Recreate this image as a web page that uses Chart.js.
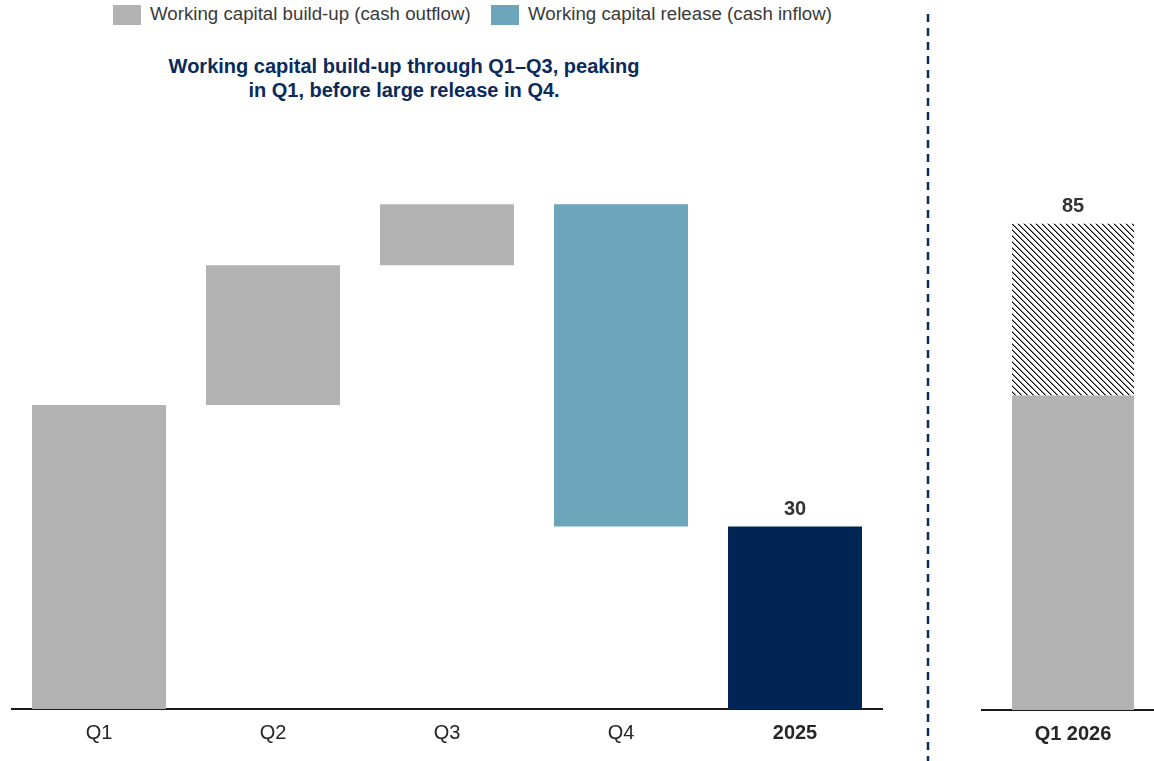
<!DOCTYPE html>
<html>
<head>
<meta charset="utf-8">
<script src="https://cdn.jsdelivr.net/npm/chart.js@4.4.1/dist/chart.umd.min.js"></script>
<style>
    html, body { margin: 0; padding: 0; background: #fff; overflow: hidden; width: 1154px; height: 761px; }
    body { position: relative; font-family: "Liberation Sans", Arial, sans-serif; }
    #legend { position: absolute; top: 0; left: 0; }
    .item { position: absolute; top: 5px; height: 20px; line-height: 20px; font-size: 18.7px; color: #3a3a3a; white-space: nowrap; }
    .swatch { position: absolute; top: 0; left: 0; width: 28px; height: 20px; }
    .item span { position: absolute; left: 37px; top: -1px; }
    #note { position: absolute; left: 154px; width: 500px; top: 54px; text-align: center;
            font-weight: bold; font-size: 20px; line-height: 24px; color: #0b2a5c; }
    #left { position: absolute; left: 0; top: 0; }
    #right { position: absolute; left: 920px; top: 0; }
</style>
</head>
<body>
<div id="legend"></div>
<div id="note">Working capital build-up through Q1–Q3, peaking<br>in Q1, before large release in Q4.</div>
<canvas id="left" width="940" height="761"></canvas>
<canvas id="right" width="244" height="761"></canvas>
<script>
(function () {
    // 2025 quarterly working capital movements, ending in the full-year figure
    const quarters = ['Q1', 'Q2', 'Q3', 'Q4'];
    const quarterChange = [50, 23, 10, -53];
    const yearLabel = '2025';

    // Q1 2026 outlook: build-up plus the hatched portion on top
    const nextLabel = 'Q1 2026';
    const nextBuildUp = [55];
    const nextHatched = [30];

    const legendLabels = ['Working capital build-up (cash outflow)', 'Working capital release (cash inflow)'];
    const legendLeft = [113, 491];

    const GRAY = '#b2b2b2';
    const TEAL = '#6ca5b9';
    const NAVY = '#002454';
    const legendColors = [GRAY, TEAL];

    // legend
    var legendHtml = [];
    for (var i = 0; i < legendLabels.length; i++) {
        legendHtml.push(`<div class="item" style="left:${legendLeft[i]}px">`);
        legendHtml.push(`<div class="swatch" style="background:${legendColors[i]}"></div>`);
        legendHtml.push(`<span>${legendLabels[i]}</span></div>`);
    }
    document.getElementById('legend').innerHTML = legendHtml.join('');

    // floating bars for the waterfall
    var bars = [], colors = [], level = 0;
    quarterChange.forEach(function (d) {
        bars.push([level, level + d]);
        colors.push(d >= 0 ? GRAY : TEAL);
        level += d;
    });
    var total = level;
    bars.push([0, total]);
    colors.push(NAVY);

    const tickFont = { family: '"Liberation Sans", Arial, sans-serif', size: 20 };
    const boldTick = Object.assign({}, tickFont, { weight: 'bold' });

    // value text above a bar
    function drawValue(chart, datasetIndex, index, text) {
        var el = chart.getDatasetMeta(datasetIndex).data[index];
        var ctx = chart.ctx;
        ctx.save();
        ctx.font = 'bold 20px "Liberation Sans", Arial, sans-serif';
        ctx.fillStyle = '#333333';
        ctx.textAlign = 'center';
        ctx.textBaseline = 'bottom';
        ctx.fillText(text, el.x, el.y - 7);
        ctx.restore();
    }

    var leftChart = new Chart(document.getElementById('left').getContext('2d'), {
        type: 'bar',
        data: {
            labels: quarters.concat([yearLabel]),
            datasets: [{
                data: bars,
                backgroundColor: colors,
                borderWidth: 0,
                barPercentage: 0.77,
                categoryPercentage: 1
            }]
        },
        options: {
            responsive: false,
            animation: false,
            layout: { padding: { top: 101, left: 12, right: 58, bottom: 0 } },
            plugins: { legend: { display: false }, tooltip: { enabled: false } },
            scales: {
                x: {
                    grid: { display: false },
                    border: { display: true, color: '#1a1a1a', width: 2 },
                    ticks: {
                        color: '#262626',
                        padding: 4,
                        font: function (c) { return c.index === quarters.length ? boldTick : tickFont; }
                    },
                    afterFit: function (s) { s.height = 52; }
                },
                y: { display: false, min: 0, max: 100 }
            }
        },
        plugins: [{
            id: 'labels',
            afterDatasetsDraw: function (chart) {
                drawValue(chart, 0, quarters.length, String(total));
            }
        }]
    });

    // diagonal hatch tile
    var tile = document.createElement('canvas');
    tile.width = 6; tile.height = 6;
    var tctx = tile.getContext('2d');
    tctx.fillStyle = '#ffffff';
    tctx.fillRect(0, 0, 6, 6);
    for (var k = 0; k < 6; k++) {
        tctx.fillStyle = '#000000';
        tctx.fillRect(k, k, 1, 1);
        tctx.fillStyle = '#8a8a8a';
        tctx.fillRect((k + 1) % 6, k, 1, 1);
    }
    var hatch = tctx.createPattern(tile, 'repeat');

    var rightChart = new Chart(document.getElementById('right').getContext('2d'), {
        type: 'bar',
        data: {
            labels: [nextLabel],
            datasets: [
                { data: nextBuildUp, backgroundColor: GRAY, borderWidth: 0, barPercentage: 0.67, categoryPercentage: 1 },
                { data: nextHatched, backgroundColor: hatch, borderWidth: 0, barPercentage: 0.67, categoryPercentage: 1 }
            ]
        },
        options: {
            responsive: false,
            animation: false,
            layout: { padding: { top: 138, left: 62, right: 0, bottom: 0 } },
            plugins: { legend: { display: false }, tooltip: { enabled: false } },
            scales: {
                x: {
                    stacked: true,
                    grid: { display: false },
                    border: { display: true, color: '#1a1a1a', width: 2 },
                    ticks: { color: '#262626', padding: 4, font: boldTick },
                    afterFit: function (s) { s.height = 51; }
                },
                y: { display: false, stacked: true, min: 0, max: 100 }
            }
        },
        plugins: [{
            id: 'labels',
            afterDatasetsDraw: function (chart) {
                drawValue(chart, 1, 0, String(nextBuildUp[0] + nextHatched[0]));
            }
        }, {
            id: 'divider',
            afterDraw: function (chart) {
                var ctx = chart.ctx;
                ctx.save();
                ctx.strokeStyle = '#0b2a5c';
                ctx.lineWidth = 2.5;
                ctx.setLineDash([8, 6]);
                ctx.beginPath();
                ctx.moveTo(8, 14);
                ctx.lineTo(8, chart.height);
                ctx.stroke();
                ctx.restore();
            }
        }]
    });
})()
</script>
</body>
</html>
